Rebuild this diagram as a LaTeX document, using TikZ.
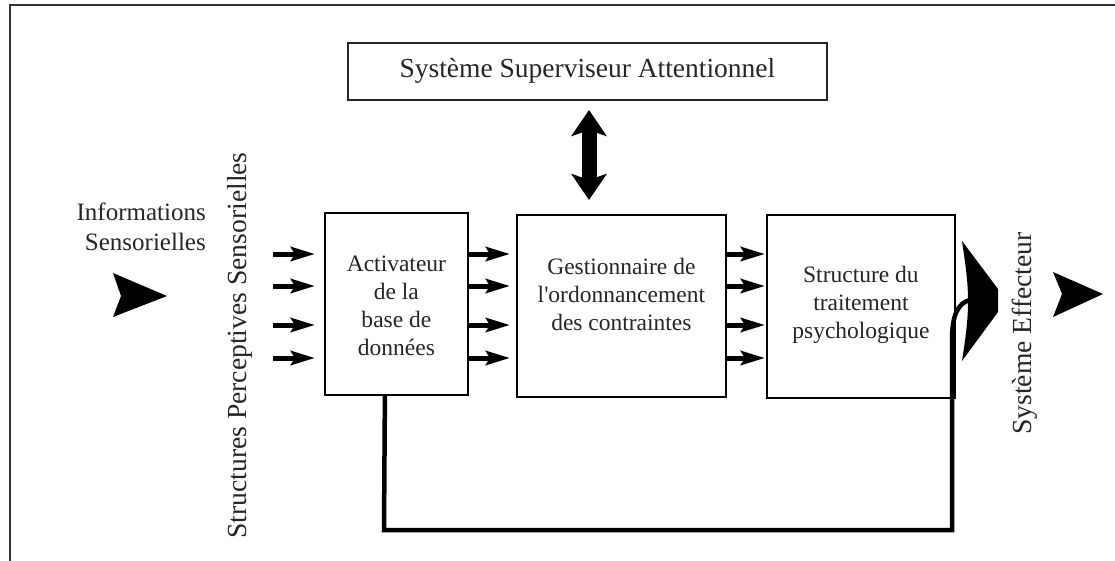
\documentclass[tikz,border=0pt]{standalone}
\usepackage{fontspec}
\setmainfont{Liberation Serif}
\usetikzlibrary{arrows.meta}
\begin{document}
\begin{tikzpicture}[x=1pt,y=-1pt,
  box/.style={draw=black, line width=1.8pt, inner sep=0pt, anchor=north west, rectangle},
  boxtext/.style={align=center, inner sep=0pt, text=black!85, font=\fontsize{23.5}{28}\selectfont},
  vtext/.style={rotate=90, inner sep=0pt, text=black!85, font=\fontsize{27.6}{32}\selectfont},
  smallarr/.style={line width=5pt, -{Stealth[length=24pt,width=14pt,inset=4pt]}},
  dblarr/.style={line width=15pt, {Stealth[length=26pt,width=35pt,inset=6pt]}-{Stealth[length=26pt,width=35pt,inset=6pt]}},
  fb/.style={line width=4.5pt, draw=black}]
\useasboundingbox (0,0) rectangle (1115,560);
\clip (0,0) rectangle (1115,560);
\fill[white] (0,0) rectangle (1115,560);
% outer frame (top and left visible)
\draw[line width=2pt, draw=black!80] (1130,5) -- (9.5,5) -- (9.5,580);

% top box
\node[box, minimum width=479pt, minimum height=57pt, draw=black!85] (ssa) at (347,42) {};
\node[inner sep=0pt, text=black!85, font=\fontsize{27.5}{32}\selectfont] (ssat) at (ssa.center) {Système Superviseur Attentionnel};

% main boxes
\node[box, minimum width=143pt, minimum height=182pt] (box1) at (324,212) {};
\node[box, minimum width=209pt, minimum height=182pt] (box2) at (516,214) {};
\node[box, minimum width=188pt, minimum height=183pt] (box3) at (766,214) {};

\node[boxtext] (t1) at ([yshift=-2pt]box1.center) {Activateur\\de la\\base de\\données};
\node[boxtext] (t2) at ([yshift=11pt]box2.center) {Gestionnaire de\\l\textquotesingle ordonnancement\\des contraintes};
\node[boxtext] (t3) at ([yshift=2pt]box3.center) {Structure du\\traitement\\psychologique};

% side texts
\node[inner sep=0pt, align=right, anchor=east, text=black!85, font=\fontsize{25}{30}\selectfont] (info) at (206,227) {Informations\\Sensorielles};
\node[vtext] (sps) at (240,345.5) {Structures Perceptives Sensorielles};
\node[vtext] (se) at (1025,333.5) {Système Effecteur};

% double arrow
\coordinate (da1) at (589,110);
\coordinate (da2) at (589,200);
\draw[dblarr] (da1) -- (da2);

% small arrows
\foreach \y [count=\i] in {254,286,325,358}{
  \coordinate (in\i) at (273,\y);
  \draw[smallarr, shorten >=9pt] (in\i) -- (box1.west |- in\i);
  \draw[smallarr, shorten >=6pt] (box1.east |- in\i) -- (box2.west |- in\i);
  \draw[smallarr, shorten >=1pt] (box2.east |- in\i) -- (box3.west |- in\i);
}

% feedback loop into big arrow
\coordinate (fbend) at (970,300);
\draw[fb] ([xshift=-11.5pt]box1.south) -- (384,530) -- (952,530) -- (952,340)
  .. controls (952,315) and (958,303) .. (fbend);
\fill (962,241) -- (998,289) -- (998,312) -- (962,361)
  .. controls (966,335) and (968,320) .. (968,300)
  .. controls (968,280) and (965,262) .. cycle;

% input/output arrowheads
\fill (113,273) -- (167,296) -- (113,317) -- (121,296) -- cycle;
\fill (1053,272) -- (1103,294) -- (1053,317) -- (1062,294) -- cycle;
\end{tikzpicture}
\end{document}
